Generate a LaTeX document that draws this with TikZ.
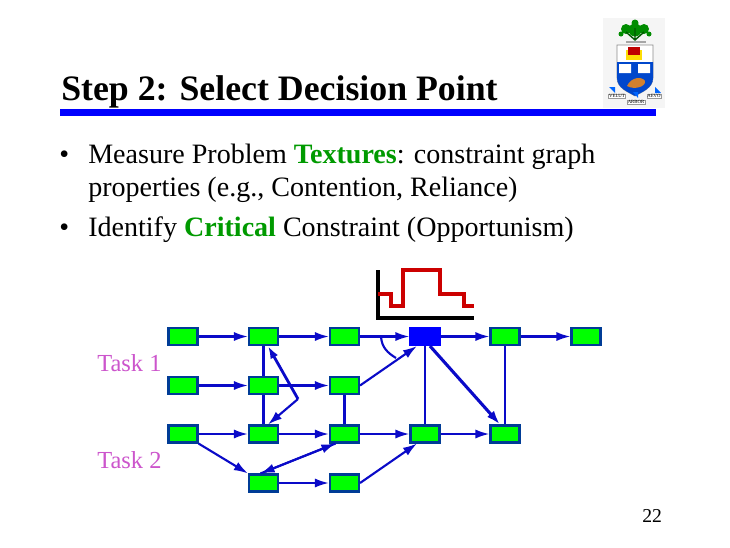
\documentclass[tikz,border=0pt]{standalone}
\usepackage{xcolor}
\usepackage{fontspec}
\setmainfont{Liberation Serif}
\usetikzlibrary{arrows.meta,calc}
\definecolor{taskpink}{HTML}{CC55CC}
\definecolor{linkblue}{HTML}{0A0AC8}
\definecolor{boxedge}{HTML}{003C96}
\definecolor{textgreen}{HTML}{009A00}
\newcommand{\hot}[1]{\textcolor{textgreen}{\textbf{#1}}}

\begin{document}
\begin{tikzpicture}[x=0.025cm,y=-0.025cm,
    task/.style={draw=boxedge,line width=1.6pt,fill=green,minimum width=0.72cm,minimum height=0.42cm,inner sep=0pt},
    hotbox/.style={task,draw=blue,fill=blue},
    link/.style={linkblue,line width=1.5pt,-{Latex[length=10pt,width=6.5pt]}},
    tie/.style={linkblue,line width=1.7pt},
    label/.style={anchor=base west,inner sep=0pt}]
  \useasboundingbox (0,0) rectangle (730,547);
  \fill[white] (0,0) rectangle (730,547);
  % title
  \node[label,font=\fontsize{25.45}{28}\selectfont\bfseries] (title) at (61,100) {Step 2: Select Decision Point};
  \fill[blue] (60,109) rectangle (656,116);
  % bullets
  \node[label,font=\fontsize{19.95}{22}\selectfont] (bulletA) at (59,163) {•};
  \node[label,font=\fontsize{19.95}{22}\selectfont] (lineA) at (88,163) {Measure Problem \hot{Textures}: constraint graph};
  \node[label,font=\fontsize{19.95}{22}\selectfont] (lineB) at (88,196) {properties (e.g., Contention, Reliance)};
  \node[label,font=\fontsize{19.95}{22}\selectfont] (bulletB) at (59,236) {•};
  \node[label,font=\fontsize{19.95}{22}\selectfont] (lineC) at (88,236) {Identify \hot{Critical} Constraint (Opportunism)};
  % crest
  \fill[black!4] (603,18) rectangle (665,108);
  \fill[green!55!black] (635,23) circle (3.5) (626,29) circle (5) (644,29) circle (5) (635,30) circle (6.5) (621,34) circle (2.5) (649,34) circle (2.5);
  \draw[green!35!black,line width=1pt] (635,28) -- (635,40) (626,32) -- (635,40) -- (644,32);
  \fill[black!35] (626,41) rectangle (646,43);
  \fill[white,draw=black!45] (617,45) -- (653,45) -- (653,78) .. controls (653,88) and (642,92) .. (635,96) .. controls (628,92) and (617,88) .. (617,78) -- cycle;
  \fill[blue!65!cyan!80!black] (617,62) -- (653,62) -- (653,78) .. controls (653,88) and (642,92) .. (635,96) .. controls (628,92) and (617,88) .. (617,78) -- cycle;
  \fill[yellow!80!orange] (626,50) rectangle (642,60);
  \fill[red!75!black] (628,47) rectangle (640,55);
  \fill[white] (619,64) rectangle (631,73) (638,64) rectangle (650,73);
  \fill[brown!70!orange] (627,86) .. controls (631,77) and (642,76) .. (645,81) .. controls (646,87) and (634,90) .. (627,86);
  \fill[blue!60!cyan] (609,87) -- (615,87) -- (615,93) -- cycle (655,87) -- (661,93) -- (655,93) -- cycle (633,92) -- (638,92) -- (638,98) -- cycle;
  \node[draw=black!40,fill=white,inner sep=0.4pt,font=\fontsize{3.4}{4}\selectfont] (velut) at (617,96) {VELUT};
  \node[draw=black!40,fill=white,inner sep=0.4pt,font=\fontsize{3.4}{4}\selectfont] (aevo) at (654,96) {AEVO};
  \node[draw=black!40,fill=white,inner sep=0.4pt,font=\fontsize{3.4}{4}\selectfont] (arbor) at (636,102) {ARBOR};
  % profile
  \draw[black,line width=2.2pt] (378,270) -- (378,318) -- (474,318);
  \draw[red!80!black,line width=2.2pt] (378,294) -- (391,294) -- (391,306) -- (403,306) -- (403,270) -- (440,270) -- (440,294) -- (464,294) -- (464,306) -- (474,306);
  % tasks
  \foreach \name/\x/\y in {a1/183/336.5,b1/263.5/336.5,c1/344.5/336.5,
                           e1/505/336.5,f1/586/336.5,
                           a2/183/385.5,b2/263.5/385.5,c2/344.5/385.5,
                           a3/183/434,b3/263.5/434,c3/344.5/434,d3/425/434,e3/505/434,
                           b4/263.5/483,c4/344.5/483}{
     \node[task] (\name) at (\x,\y) {};
  }
  \node[hotbox] (d1) at (425,336.5) {};
  \node[label,font=\fontsize{17.4}{20}\selectfont,text=taskpink] (task1) at (97,371) {Task 1};
  \node[label,font=\fontsize{17.4}{20}\selectfont,text=taskpink] (task2) at (97,468) {Task 2};
  \node[label,font=\fontsize{14}{15}\selectfont] (page) at (642,522) {22};
  % sequence links
  \foreach \from/\to in {a1/b1,b1/c1,c1/d1,d1/e1,e1/f1,a2/b2,b2/c2,a3/b3,b3/c3,c3/d3,d3/e3,b4/c4}{
     \draw[link] (\from) -- (\to);
  }
  % shared resource links
  \foreach \from/\to in {b1/b2,b2/b3,c2/c3,d1/d3,e1/e3}{
     \draw[tie] (\from) -- (\to);
  }
  \coordinate (bend) at (298,399);
  \draw[tie,line width=2pt,-{Latex[length=9pt,width=6pt]}] (bend) -- ($(b1.south)+(4.5,0)$);
  \draw[link] (bend) -- ($(b3.north)+(4.5,0)$);
  \draw[link] (a3.south east) -- (b4.north west);
  \draw[link] (c2.east) -- ($(d1.south)+(-8,0)$);
  \draw[link] (c4.east) -- ($(d3.south)+(-8,0)$);
  \draw[link] ($(b4.north)+(-3,0)$) -- ($(c3.south)+(-9,0)$);
  \draw[link] ($(c3.south)+(-9,0)$) -- ($(b4.north)+(-3,0)$);
  \draw[tie,line width=2.2pt,-{Latex[length=10pt,width=6.5pt]}] ($(d1.south)+(5,0)$) -- ($(e3.north)+(-5,0)$);
  \coordinate (arcstart) at (381,337);
  \coordinate (arcend) at (396,358);
  \draw[linkblue,line width=1.5pt] (arcstart) .. controls (382,348) and (388,353) .. (arcend);
\end{tikzpicture}
\end{document}
